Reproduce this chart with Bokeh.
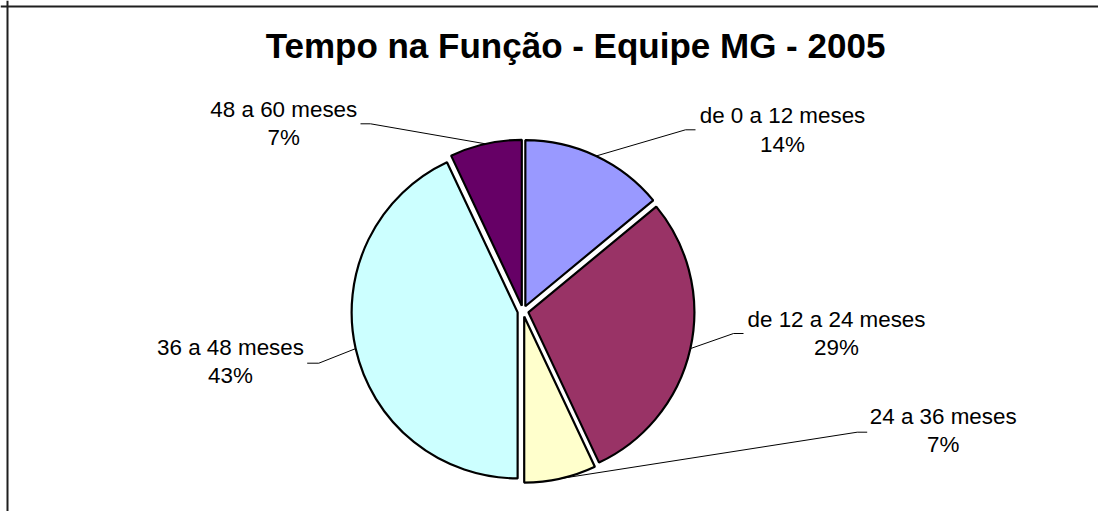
import numpy as np
from bokeh.plotting import figure
from bokeh.models import ColumnDataSource, Range1d, Span
from bokeh.core.properties import value
from bokeh.embed import file_html
from bokeh.resources import INLINE

# ---------------- data ----------------
title = "Tempo na Função - Equipe MG - 2005"
categories = ["de 0 a 12 meses", "de 12 a 24 meses", "24 a 36 meses",
              "36 a 48 meses", "48 a 60 meses"]
percent = [14, 29, 7, 43, 7]
colors = ["#9999FF", "#993366", "#FFFFCC", "#CCFFFF", "#660066"]

# ---------------- layout (chart pixel coords, y downwards) ----------------
W, H = 1098, 511


def Y(y):
    return H - y


CX, CY = 522.5, 310.7
R = 166
EXPLODE = 5.5
LABEL_SIZE = 22.4
TITLE_SIZE = 35
LINE_GAP = 28.3
SHIFT = 0.358  # baseline -> visual-centre correction (em)
label_pos = [(782, 123.5), (836, 326.7), (942.7, 424.0), (230, 355.0), (283.3, 116.7)]
leader_elbow = [(685, 129.3), (733, 333), (856.7, 431.7), (318.3, 362.7), (370, 123.3)]
leader_tail = [695, 743, 866.7, 306.7, 360]

# ---------------- geometry from data ----------------
vals = np.array(percent, dtype=float)
frac = vals / vals.sum()
cum_end = np.cumsum(frac) * 2 * np.pi
cum_start = cum_end - frac * 2 * np.pi
mid = (cum_start + cum_end) / 2

wx = CX + EXPLODE * np.sin(mid)
wy = Y(CY) + EXPLODE * np.cos(mid)

src = ColumnDataSource(dict(
    x=wx, y=wy,
    start=np.pi / 2 - cum_start,
    end=np.pi / 2 - cum_end,
    color=colors,
))

p = figure(width=W, height=H, output_backend="svg", toolbar_location=None,
           x_range=Range1d(0, W), y_range=Range1d(0, H),
           x_axis_location=None, y_axis_location=None, min_border=0)
p.grid.visible = False
p.outline_line_color = None
p.background_fill_color = "white"

# frame (left and top edges of chart area)
p.add_layout(Span(location=7, dimension="height", line_color="#1f1f1f", line_width=2))
p.add_layout(Span(location=Y(6), dimension="width", line_color="#1f1f1f", line_width=2))

p.wedge(x="x", y="y", radius=R, start_angle="start", end_angle="end",
        direction="clock", fill_color="color", line_color="black",
        line_width=2.2, source=src)

# leader lines
xs, ys = [], []
for i in range(len(categories)):
    ax = wx[i] + R * np.sin(mid[i])
    ay = wy[i] + R * np.cos(mid[i])
    ex, ey = leader_elbow[i]
    xs.append([ax, ex, leader_tail[i]])
    ys.append([ay, Y(ey), Y(ey)])
p.multi_line(xs=xs, ys=ys, line_color="black", line_width=1)

# labels
dy = SHIFT * LABEL_SIZE
lx = [lp[0] for lp in label_pos]
ly1 = [Y(lp[1] - dy) for lp in label_pos]
ly2 = [Y(lp[1] + LINE_GAP - dy) for lp in label_pos]
p.text(x=lx, y=ly1, text=categories, text_font=value("Liberation Sans"),
       text_font_size=f"{LABEL_SIZE}px", text_align="center", text_baseline="alphabetic",
       text_color="black")
p.text(x=lx, y=ly2, text=[f"{v}%" for v in percent], text_font=value("Liberation Sans"),
       text_font_size=f"{LABEL_SIZE}px", text_align="center", text_baseline="alphabetic",
       text_color="black")

# title
p.text(x=[575], y=[Y(57.3 - SHIFT * TITLE_SIZE)], text=[title], text_font=value("Liberation Sans"),
       text_font_size=f"{TITLE_SIZE}px", text_font_style="bold", text_align="center",
       text_baseline="alphabetic", text_color="black")

open("out.html", "w").write(file_html(p, INLINE))
